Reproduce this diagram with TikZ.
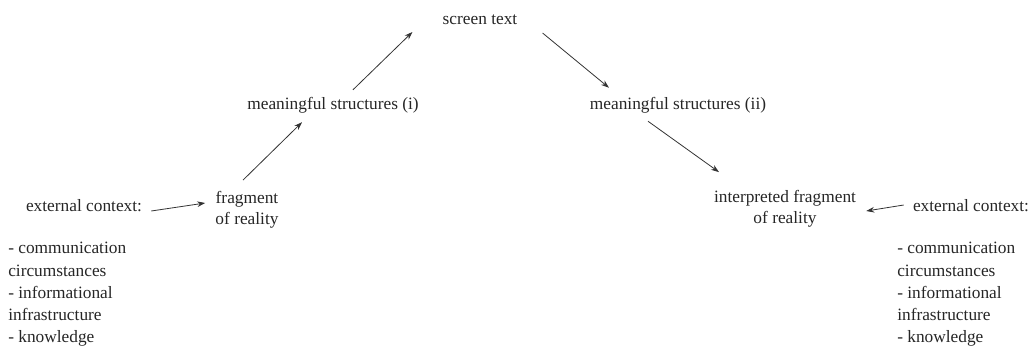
\documentclass[tikz,border=0pt]{standalone}
\usepackage{fontspec}
\setmainfont{Liberation Serif}
\newfontfamily\tnr{Liberation Serif}
\usetikzlibrary{arrows.meta,calc}
\begin{document}
\begin{tikzpicture}[x=0.75pt,y=-0.75pt,
  lbl/.style={inner sep=0pt,font=\tnr\fontsize{13}{16}\selectfont,text=black!85},
  lst/.style={lbl,align=left,anchor=north west,font=\tnr\fontsize{13}{16.7}\selectfont},
  arr/.style={draw=black!80,line width=0.6pt,-{Stealth[length=6pt,width=4.2pt]}}]
\useasboundingbox (0,0) rectangle (1033,347);
\node[lbl] (st) at (480,20) {screen text};
\node[lbl] (ms1) at (333,105) {meaningful structures (i)};
\node[lbl] (ms2) at (678,105) {meaningful structures (ii)};
\node[lbl,align=center] (frag) at (247,210) {fragment\\of reality};
\node[lbl,align=center] (interp) at (785,209) {interpreted fragment\\of reality};
\node[lbl] (extL) at (84,206) {external context:};
\node[lbl] (extR) at (971,206) {external context:};
\node[lst] (listL) at (8,242) {- communication\\circumstances\\- informational\\infrastructure\\- knowledge};
\node[lst] (listR) at (897,242) {- communication\\circumstances\\- informational\\infrastructure\\- knowledge};
\draw[arr] ($(extL.east)+(9,5)$) -- ($(frag.west)+(-10,-7)$);
\draw[arr] ($(frag.north)+(-4,-11)$) -- ($(ms1.south)+(-31,9)$);
\draw[arr] ($(ms1.north)+(20,-7)$) -- ($(st.west)+(-30,12)$);
\draw[arr] ($(st.east)+(25,13)$) -- ($(ms2.north)+(-69,-9)$);
\draw[arr] ($(ms2.south)+(-30,8)$) -- ($(interp.north)+(-66,-18)$);
\draw[arr] ($(extR.west)+(-9,-1)$) -- ($(interp.east)+(10,2)$);
\end{tikzpicture}
\end{document}
